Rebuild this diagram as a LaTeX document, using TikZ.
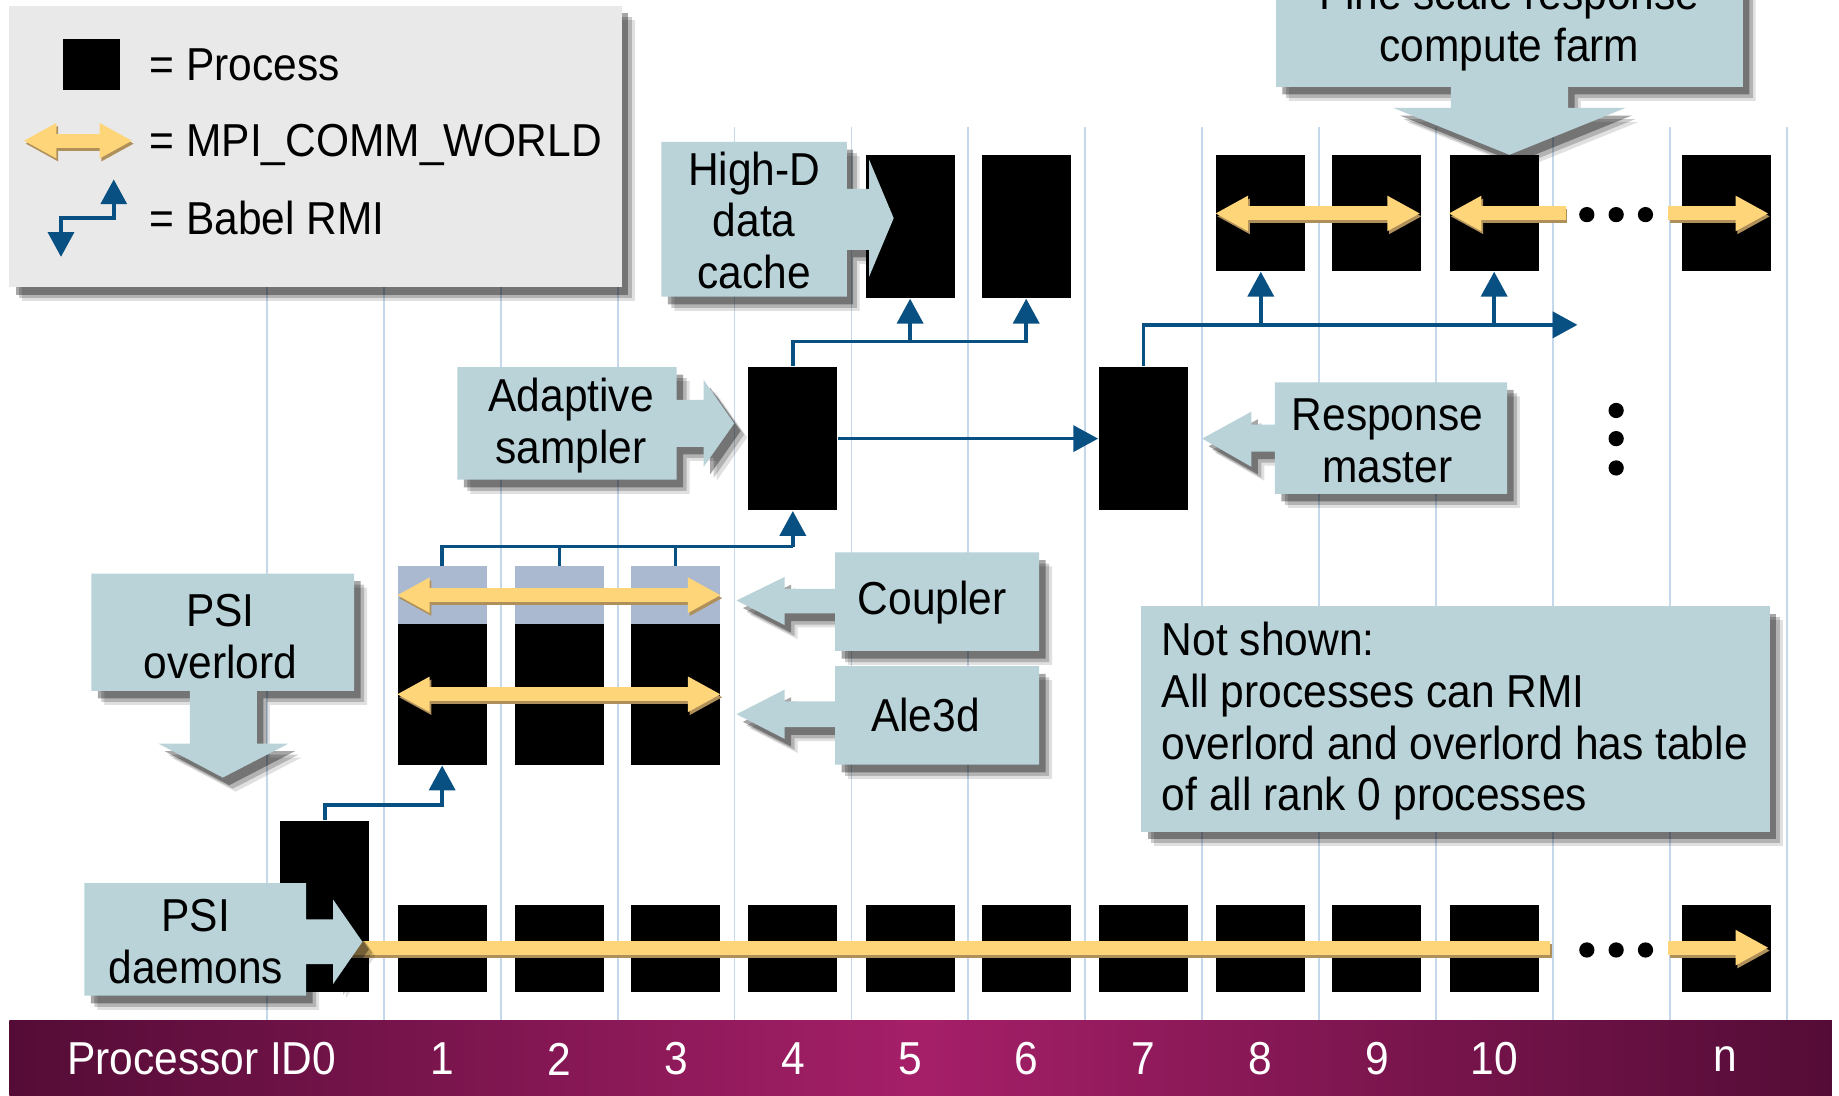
\documentclass[tikz,border=0pt]{standalone}
\usepackage{fontspec}
\setmainfont{Liberation Sans}[FakeStretch=0.92]
\usetikzlibrary{arrows.meta,shadows}

\definecolor{callout}{RGB}{185,211,217}
\definecolor{legendbg}{RGB}{233,233,233}
\definecolor{gridc}{RGB}{198,217,236}
\definecolor{rmic}{RGB}{8,80,130}
\definecolor{mpiy}{RGB}{254,213,120}
\definecolor{mpis}{RGB}{176,144,90}
\definecolor{hdr}{RGB}{170,185,208}
\definecolor{barDark}{RGB}{84,12,54}
\definecolor{barMid}{RGB}{165,31,104}

\newcommand{\mpiarr}[3]{%
  \draw[mpishadow,#1] ([shift={(1.5,2.5)}]#2) -- ([shift={(1.5,2.5)}]#3);
  \draw[mpi,#1] (#2) -- (#3);}

\begin{document}
\begin{tikzpicture}[x=0.01cm,y=-0.01cm,
  every node/.style={font=\fontsize{11.2}{12.5}\selectfont},
  ytip/.tip={Triangle[length=8pt,width=8pt]},
  btip/.tip={Triangle[length=6pt,width=6.3pt]},
  proc/.style={fill=black, inner sep=0pt, minimum width=0.76cm},
  gridline/.style={draw=gridc, line width=0.45pt},
  rmi/.style={draw=rmic, line width=0.85pt, arrows={-btip}},
  rmiline/.style={draw=rmic, line width=0.85pt},
  mpi/.style={draw=mpiy, line width=3.4pt},
  mpishadow/.style={draw=mpis, line width=3.4pt},
  both/.style={arrows={ytip-ytip}},
  rhead/.style={arrows={-ytip}},
  lhead/.style={arrows={ytip-}},
  callbox/.style={fill=callout,
    drop shadow={shadow xshift=1.1mm, shadow yshift=-1.2mm, opacity=0.12, fill=black},
    drop shadow={shadow xshift=0.85mm, shadow yshift=-0.95mm, opacity=0.2, fill=black},
    drop shadow={shadow xshift=0.55mm, shadow yshift=-0.65mm, opacity=0.35, fill=black}},
  lbl/.style={align=center, inner sep=0pt},
  barlbl/.style={inner sep=0pt, text=white},
  blackdot/.style={circle, fill=black, inner sep=0pt, minimum size=0.13cm},
]
\useasboundingbox (0,0) rectangle (1568,934);
\fill[white] (0,0) rectangle (1568,934);

% grid lines
\foreach \k in {0,...,13}
  \draw[gridline] ({227.5+99.7*\k},108) -- ({227.5+99.7*\k},870);

% bottom row processes
\node[proc, minimum height=1.46cm] (b0) at (277,773) {};
\foreach \k/\x in {1/377,2/477,3/576,4/676,5/776,6/875,7/975,8/1075,9/1174,10/1274,n/1472}
  \node[proc, minimum height=0.74cm] (b\k) at (\x,809) {};

% Ale3d / coupler processes
\foreach \k/\x in {1/377,2/477,3/576}{
  \node[proc, minimum height=1.2cm] (a\k) at (\x,592) {};
  \node[fill=hdr, inner sep=0pt, minimum width=0.76cm, minimum height=0.49cm] (h\k) at (\x,507.5) {};
}

% adaptive sampler, response master
\node[proc, minimum height=1.22cm] (as) at (676,374) {};
\node[proc, minimum height=1.22cm] (rm) at (975,374) {};
% data cache
\node[proc, minimum height=1.22cm] (c5) at (776,193) {};
\node[proc, minimum height=1.22cm] (c6) at (875,193) {};
% fine scale farm
\foreach \k/\x in {8/1075,9/1174,10/1274,n/1472}
  \node[proc, minimum height=0.99cm] (f\k) at (\x,181.5) {};

% RMI connectors
\draw[rmi] (b0.north) -- ++(0,-13) -| (a1.south);
\coordinate (j1) at (676,466);
\draw[rmiline] (h1.north) |- (j1);
\draw[rmiline] (h2.north) -- (h2.north |- j1);
\draw[rmiline] (h3.north) -- (h3.north |- j1);
\draw[rmi] (j1) -- (as.south);
\draw[rmi] (as.east) -- (rm.west);
\coordinate (j2) at (676,291);
\draw[rmi] (as.north) -- (j2) -| (c6.south);
\draw[rmi] (c5.south |- j2) -- (c5.south);
\coordinate (j3) at (975,277);
\coordinate (rend) at (1345,277);
\draw[rmi] (rm.north) -- (j3) -- (rend);
\draw[rmi] (f8.south |- j3) -- (f8.south);
\draw[rmi] (f10.south |- j3) -- (f10.south);

% MPI arrows
\coordinate (m0s) at (296,808);
\coordinate (m0e) at (1322,808);
\coordinate (m1s) at (1422,808);
\coordinate (m1e) at (1508,808);
\mpiarr{}{m0s}{m0e}
\mpiarr{rhead}{m1s}{m1e}
\mpiarr{both}{h1.west}{h3.east}
\mpiarr{both}{a1.west}{a3.east}
\coordinate (t1s) at (1036,182);
\coordinate (t1e) at (1211,182);
\coordinate (t2s) at (1235,182);
\coordinate (t2e) at (1335,182);
\coordinate (t3s) at (1422,182);
\coordinate (t3e) at (1508,182);
\mpiarr{both}{t1s}{t1e}
\mpiarr{lhead}{t2s}{t2e}
\mpiarr{rhead}{t3s}{t3e}

% dots
\foreach \i/\x in {1/1353,2/1378,3/1403}{
  \node[blackdot] (bd\i) at (\x,810) {};
  \node[blackdot] (td\i) at (\x,183) {};
}
\foreach \i/\y in {1/350,2/374,3/399}
  \node[blackdot] (vd\i) at (1378,\y) {};

% callouts
\path[callbox] (564,121) -- (722,121) -- (722,161) -- (741,161) -- (741,136) -- (762,186)
  -- (741,236) -- (741,213) -- (722,213) -- (722,253) -- (564,253) -- cycle;
\node[lbl] (hdc) at (643,188) {High-D\\data\\cache};

\path[callbox] (390,313) -- (577,313) -- (577,341) -- (600,341) -- (600,324) -- (626,361)
  -- (600,398) -- (600,381) -- (577,381) -- (577,409) -- (390,409) -- cycle;
\node[lbl] (ads) at (487,363) {Adaptive\\sampler};

\path[callbox] (1285,326) -- (1285,421) -- (1087,421) -- (1087,385) -- (1067,385) -- (1067,398)
  -- (1025,374) -- (1067,351) -- (1067,362) -- (1087,362) -- (1087,326) -- cycle;
\node[lbl] (rsm) at (1183,376) {Response\\master};

\path[callbox] (886,471) -- (886,555) -- (712,555) -- (712,523) -- (669,523) -- (669,533)
  -- (628,512) -- (669,492) -- (669,502) -- (712,502) -- (712,471) -- cycle;
\node[lbl] (cpl) at (795,514) {Coupler};

\path[callbox] (886,568) -- (886,652) -- (712,652) -- (712,620) -- (669,620) -- (669,630)
  -- (628,609) -- (669,588) -- (669,598) -- (712,598) -- (712,568) -- cycle;
\node[lbl] (ale) at (789,610) {Ale3d};

\path[callbox] (78,489) -- (302,489) -- (302,589) -- (219,589) -- (219,634) -- (246,634)
  -- (190,663) -- (135,634) -- (162,634) -- (162,589) -- (78,589) -- cycle;
\node[lbl] (pso) at (188,543) {PSI\\overlord};

\path[callbox] (72,753) -- (261,753) -- (261,784) -- (284,784) -- (284,767) -- (309,803)
  -- (284,839) -- (284,822) -- (261,822) -- (261,849) -- (72,849) -- cycle;
\node[lbl] (psd) at (167,803) {PSI\\daemons};

\path[callbox] (1088,-30) -- (1486,-30) -- (1486,74) -- (1337,74) -- (1337,92) -- (1386,92)
  -- (1287,132) -- (1188,92) -- (1237,92) -- (1237,74) -- (1088,74) -- cycle;
\node[lbl] (fsr) at (1287,20) {Fine scale response\\compute farm};

\path[callbox] (973,517) rectangle (1509,709);
\node[inner sep=0pt, align=left, anchor=west] (nsh) at (990,615)
  {Not shown:\\All processes can RMI\\overlord and overlord has table\\of all rank 0 processes};

% legend
\path[callbox, fill=legendbg] (8,5) rectangle (530,245);
\node[fill=black, inner sep=0pt, minimum width=0.48cm, minimum height=0.44cm] (lsq) at (78,55) {};
\coordinate (lm1) at (20,120);
\coordinate (lm2) at (113,120);
\mpiarr{both}{lm1}{lm2}
\coordinate (li1) at (52,219);
\coordinate (li2) at (52,186);
\coordinate (li3) at (97,186);
\coordinate (li4) at (97,153);
\draw[rmiline, arrows={btip-btip}] (li1) -- (li2) -- (li3) -- (li4);
\node[inner sep=0pt, anchor=west] (lt1) at (127,55) {= Process};
\node[inner sep=0pt, anchor=west, text depth=0pt] (lt2) at (127,120) {= MPI\_COMM\_WORLD};
\node[inner sep=0pt, anchor=west] (lt3) at (127,186) {= Babel RMI};

% processor bar
\shade[left color=barDark, right color=barDark, middle color=barMid] (8,870) rectangle (1562,934);
\node[barlbl] (pid) at (172,903) {Processor ID0};
\foreach \k/\x in {1/377,2/477,3/577,4/676,5/776,6/875,7/975,8/1075,9/1174,10/1274,n/1471}
  \node[barlbl] (n\k) at (\x,903) {\k};
\end{tikzpicture}
\end{document}
